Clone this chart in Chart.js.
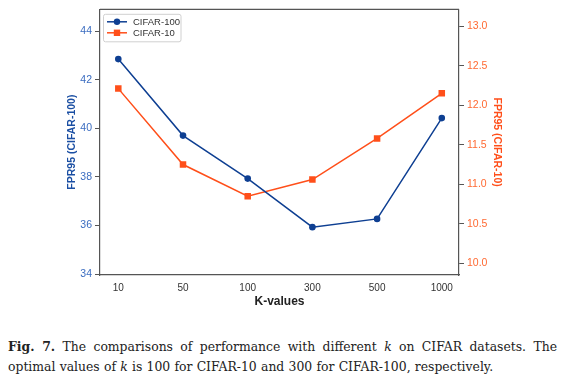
<!DOCTYPE html>
<html>
<head>
<meta charset="utf-8">
<script src="https://cdn.jsdelivr.net/npm/chart.js@4.4.1/dist/chart.umd.min.js"></script>
<style>
  html, body { margin: 0; padding: 0; background: #fff; }
  #wrap { position: relative; width: 569px; height: 318px; }
  #caption {
    width: 549px; margin: 0 0 0 8px; padding-top: 19px;
    font-family: "DejaVu Serif", "Liberation Serif", serif; font-size: 12.4px;
    line-height: 19.5px; color: #222;
  }
  #caption .l1 { text-align: justify; text-align-last: justify; white-space: nowrap; }
  #caption .l2 { white-space: nowrap; word-spacing: 0.3px; }
</style>
</head>
<body>
<div id="wrap"><canvas id="c" width="569" height="318"></canvas></div>
<div id="caption"><div class="l1"><b>Fig. 7.</b> The comparisons of performance with different <i>k</i> on CIFAR datasets. The</div><div class="l2">optimal values of <i>k</i> is 100 for CIFAR-10 and 300 for CIFAR-100, respectively.</div></div>
<script>
const categories = ['10', '50', '100', '300', '500', '1000'];
const cifar100 = [42.85, 39.70, 37.93, 35.93, 36.27, 40.42];
const cifar10 = [12.21, 11.25, 10.85, 11.06, 11.58, 12.15];
const leftTicks = [34, 36, 38, 40, 42, 44];
const rightTicks = [10.0, 10.5, 11.0, 11.5, 12.0, 12.5, 13.0];

const BLUE = '#0e3f92';
const BLUE_TXT = '#3a6cc0';
const BLUE_TITLE = '#1b4fa3';
const ORANGE = '#ff4f1a';
const ORANGE_TXT = '#ff6a33';
const FRAME = '#555';
const FONT = "'Liberation Sans', Arial, sans-serif";

const framePlugin = {
  id: 'frame',
  afterDatasetsDraw(chart) {
    const {ctx, chartArea: a} = chart;
    ctx.save();
    ctx.strokeStyle = FRAME;
    ctx.lineWidth = 1.2;
    ctx.beginPath();
    ctx.moveTo(a.left, a.top);
    ctx.lineTo(a.right, a.top);
    ctx.stroke();
    // legend
    const x0 = a.left + 3.5, y0 = a.top + 5, w = 77.5, h = 27.5;
    ctx.fillStyle = 'rgba(255,255,255,0.9)';
    ctx.strokeStyle = '#d0d0d0';
    ctx.lineWidth = 1;
    ctx.beginPath();
    ctx.roundRect(x0, y0, w, h, 2);
    ctx.fill();
    ctx.stroke();
    chart.data.datasets.forEach((ds, i) => {
      const y = y0 + 7.5 + i * 11;
      ctx.strokeStyle = ds.borderColor;
      ctx.lineWidth = 1.5;
      ctx.beginPath();
      ctx.moveTo(x0 + 3.5, y);
      ctx.lineTo(x0 + 23.5, y);
      ctx.stroke();
      ctx.fillStyle = ds.borderColor;
      if (ds.pointStyle === 'rect') {
        ctx.fillRect(x0 + 13.5 - 3.2, y - 3.2, 6.4, 6.4);
      } else {
        ctx.beginPath();
        ctx.arc(x0 + 13.5, y, 3.2, 0, Math.PI * 2);
        ctx.fill();
      }
      ctx.fillStyle = '#333';
      ctx.font = "9.5px " + FONT;
      ctx.textBaseline = 'middle';
      ctx.textAlign = 'left';
      ctx.fillText(ds.label, x0 + 29.5, y + 0.5);
    });
    ctx.restore();
  }
};

new Chart(document.getElementById('c'), {
  type: 'line',
  data: {
    datasets: [
      {
        label: 'CIFAR-100',
        data: cifar100.map((v, i) => ({x: i, y: v})),
        yAxisID: 'y',
        borderColor: BLUE, backgroundColor: BLUE,
        borderWidth: 1.5, pointStyle: 'circle', pointRadius: 3.3,
        pointBorderWidth: 0, tension: 0
      },
      {
        label: 'CIFAR-10',
        data: cifar10.map((v, i) => ({x: i, y: v})),
        yAxisID: 'y1',
        borderColor: ORANGE, backgroundColor: ORANGE,
        borderWidth: 1.5, pointStyle: 'rect', pointRadius: 4.6,
        pointBorderWidth: 0, tension: 0
      }
    ]
  },
  options: {
    responsive: false,
    animation: false,
    layout: { padding: { top: 7, left: 0, right: 0, bottom: 0 } },
    plugins: { legend: { display: false }, tooltip: { enabled: false } },
    scales: {
      x: {
        type: 'linear', min: -0.283, max: 5.266,
        afterBuildTicks: s => { s.ticks = categories.map((c, i) => ({value: i})); },
        afterFit: s => { s.height = 43; },
        ticks: { callback: v => categories[v], color: '#333', font: { family: FONT, size: 10 }, padding: 7, maxRotation: 0, autoSkip: false },
        grid: { display: false, drawTicks: false },
        border: { display: true, color: FRAME, width: 1.2 },
        title: { display: true, text: 'K-values', color: '#222', font: { family: FONT, size: 12, weight: 'bold' }, padding: { top: 0, bottom: 8.8 } }
      },
      y: {
        position: 'left', min: 33.96, max: 44.9,
        afterBuildTicks: s => { s.ticks = leftTicks.map(v => ({value: v})); },
        afterFit: s => { s.width = 100; },
        ticks: { color: BLUE_TXT, font: { family: FONT, size: 10.5 }, padding: 3 },
        grid: { drawOnChartArea: false, drawTicks: true, tickLength: 5, color: FRAME },
        border: { display: true, color: FRAME, width: 1.2 },
        title: { display: true, text: 'FPR95 (CIFAR-100)', color: BLUE_TITLE, font: { family: FONT, size: 10.5, weight: 'bold' }, padding: { top: 65.7, bottom: 0 } }
      },
      y1: {
        position: 'right', min: 9.853, max: 13.213,
        afterBuildTicks: s => { s.ticks = rightTicks.map(v => ({value: v})); },
        afterFit: s => { s.width = 110; },
        ticks: { color: ORANGE_TXT, font: { family: FONT, size: 10.5 }, padding: 3, callback: v => Number(v).toFixed(1) },
        grid: { drawOnChartArea: false, drawTicks: true, tickLength: 5, color: FRAME },
        border: { display: true, color: FRAME, width: 1.2 },
        title: { display: true, text: 'FPR95 (CIFAR-10)', color: ORANGE, font: { family: FONT, size: 10.5, weight: 'bold' }, padding: { top: 66, bottom: 0 } }
      }
    }
  },
  plugins: [framePlugin]
});
</script>
</body>
</html>
